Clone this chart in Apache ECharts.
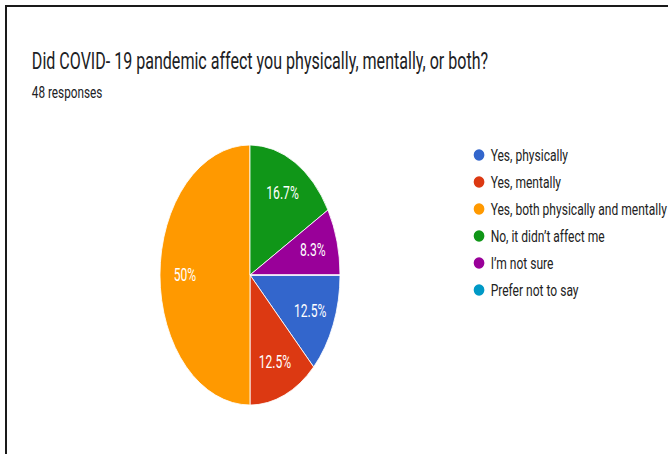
<!DOCTYPE html>
<html>
<head>
<meta charset="utf-8">
<script src="https://cdn.jsdelivr.net/npm/echarts@6/dist/echarts.min.js"></script>
<style>
  html, body { margin: 0; padding: 0; background: #fff; overflow: hidden; }
  #frame { position: absolute; left: 5px; top: 5px; width: 700px; height: 460px;
           border-left: 2px solid #1a1a1a; border-top: 2px solid #1a1a1a; box-sizing: border-box; }
  #chart { position: absolute; left: 0; top: 0; width: 965px; height: 454px;
           transform: scaleX(0.6925); transform-origin: 0 0; }
</style>
</head>
<body>
<div id="chart"></div>
<div id="frame"></div>
<script>
// Survey question, answer options and response counts (48 responses)
const questionTitle = 'Did COVID- 19 pandemic affect you physically, mentally, or both?';
const responseNote = '48 responses';
const answers = [
  'Yes, physically',
  'Yes, mentally',
  'Yes, both physically and mentally',
  'No, it didn\u2019t affect me',
  'I\u2019m not sure',
  'Prefer not to say'
];
const counts = [6, 6, 24, 8, 4, 0];
const sliceColors = ['#3366cc', '#dc3912', '#ff9900', '#109618', '#990099', '#0099c6'];

const total = counts.reduce((a, b) => a + b, 0);
const pct = v => {
  const p = Math.round(v / total * 1000) / 10;
  return (p % 1 === 0 ? p.toFixed(0) : p.toFixed(1)) + '%';
};

const sliceData = answers.map((name, i) => ({ name, value: counts[i] }));
const labelData = answers.map((name, i) => ({
  name, value: counts[i],
  label: { show: counts[i] > 0 }
}));

const chart = echarts.init(document.getElementById('chart'), null, { renderer: 'svg' });
const FONT = 'Roboto, "Noto Sans", sans-serif';
// wide ellipse so the dot stays round after the horizontal squeeze of the page
const legendIcon = 'path://M0,50 A65,50 0 1,1 130,50 A65,50 0 1,1 0,50 Z';

chart.setOption({
  animation: false,
  color: sliceColors,
  title: [
    {
      text: questionTitle, left: 46, top: 49.5, padding: 0,
      textStyle: { fontFamily: FONT, fontSize: 23.2, lineHeight: 23, fontWeight: 'normal', color: '#202124' }
    },
    {
      text: responseNote, left: 46, top: 84, padding: 0,
      textStyle: { fontFamily: FONT, fontSize: 17, lineHeight: 17, fontWeight: 'normal', color: '#202124' }
    }
  ],
  legend: {
    orient: 'vertical', left: 682, top: 146.5, padding: 0,
    itemWidth: 17.5, itemHeight: 13.5, itemGap: 10,
    icon: legendIcon,
    data: answers,
    selectedMode: false,
    textStyle: { fontFamily: FONT, fontSize: 17.4, lineHeight: 17, color: '#222', padding: [0, 0, 0, 3] }
  },
  series: [
    {
      type: 'pie', center: [361, 275], radius: 130,
      startAngle: 0, clockwise: true,
      data: sliceData, silent: true,
      itemStyle: { borderColor: '#ffffff', borderWidth: 1 },
      label: { show: false }, labelLine: { show: false }
    },
    {
      // transparent ring used only to place the percentage labels at ~0.7 of the radius
      type: 'pie', center: [361, 275], radius: 182,
      startAngle: 0, clockwise: true,
      data: labelData, silent: true,
      itemStyle: { color: 'rgba(0,0,0,0)' },
      label: {
        position: 'inside', color: '#ffffff', fontFamily: FONT, fontSize: 17.5,
        formatter: p => pct(p.value)
      },
      labelLine: { show: false }
    }
  ]
});
</script>
</body>
</html>
